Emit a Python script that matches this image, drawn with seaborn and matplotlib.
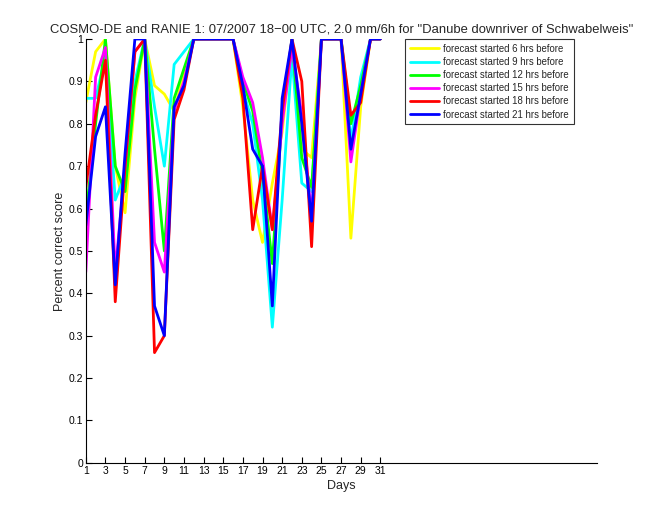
import matplotlib
matplotlib.use("Agg")
import matplotlib.pyplot as plt
import seaborn as sns
import pandas as pd
import numpy as np

days = list(range(1, 32))

yellow_6 = [0.85, 0.97, 1.0, 0.70, 0.59, 0.86, 1.0, 0.89, 0.87, 0.83, 0.92, 1.0,
            1.0, 1.0, 1.0, 1.0, 0.84, 0.62, 0.52, 0.66, 0.78, 1.0, 0.74, 0.72,
            1.0, 1.0, 1.0, 0.53, 0.84, 1.0, 1.0]
cyan_9 = [0.86, 0.86, 0.96, 0.62, 0.68, 0.90, 1.0, 0.84, 0.70, 0.94, 0.97, 1.0,
          1.0, 1.0, 1.0, 1.0, 0.88, 0.80, 0.62, 0.32, 0.62, 0.96, 0.66, 0.64,
          1.0, 1.0, 1.0, 0.76, 0.91, 1.0, 1.0]
green_12 = [0.58, 0.80, 1.0, 0.70, 0.64, 0.88, 1.0, 0.74, 0.50, 0.86, 0.93, 1.0,
            1.0, 1.0, 1.0, 1.0, 0.90, 0.83, 0.68, 0.47, 0.82, 1.0, 0.72, 0.65,
            1.0, 1.0, 1.0, 0.80, 0.89, 1.0, 1.0]
magenta_15 = [0.45, 0.91, 0.98, 0.45, 0.70, 0.97, 1.0, 0.52, 0.45, 0.83, 0.90, 1.0,
              1.0, 1.0, 1.0, 1.0, 0.91, 0.85, 0.72, 0.55, 0.80, 0.98, 0.82, 0.58,
              1.0, 1.0, 1.0, 0.71, 0.87, 1.0, 1.0]
red_18 = [0.65, 0.82, 0.95, 0.38, 0.70, 0.97, 1.0, 0.26, 0.30, 0.81, 0.88, 1.0,
          1.0, 1.0, 1.0, 1.0, 0.86, 0.55, 0.70, 0.55, 0.83, 1.0, 0.90, 0.51,
          1.0, 1.0, 1.0, 0.82, 0.85, 1.0, 1.0]
blue_21 = [0.56, 0.77, 0.84, 0.42, 0.73, 1.0, 1.0, 0.37, 0.30, 0.84, 0.89, 1.0,
           1.0, 1.0, 1.0, 1.0, 0.89, 0.74, 0.70, 0.37, 0.86, 1.0, 0.80, 0.57,
           1.0, 1.0, 1.0, 0.74, 0.87, 1.0, 1.0]

labels = ["forecast started 6 hrs before", "forecast started 9 hrs before",
          "forecast started 12 hrs before", "forecast started 15 hrs before",
          "forecast started 18 hrs before", "forecast started 21 hrs before"]
series = [yellow_6, cyan_9, green_12, magenta_15, red_18, blue_21]
colors = ["#ffff00", "#00ffff", "#00ff00", "#ff00ff", "#ff0000", "#0000ff"]

xticks = list(range(1, 32, 2))
yticks = [0, 0.1, 0.2, 0.3, 0.4, 0.5, 0.6, 0.7, 0.8, 0.9, 1]
ytick_labels = ["0", "0.1", "0.2", "0.3", "0.4", "0.5", "0.6", "0.7", "0.8", "0.9", "1"]

title = 'COSMO-DE and RANIE 1: 07/2007 18\u221200 UTC, 2.0 mm/6h for "Danube downriver of Schwabelweis"'

df = pd.concat([pd.DataFrame({"Days": days, "score": s, "series": lab})
                for s, lab in zip(series, labels)], ignore_index=True)

sns.set_style("white")
plt.rcParams["font.family"] = ["Liberation Sans", "DejaVu Sans"]

fig = plt.figure(figsize=(6.6, 5.2), dpi=100)
ax = fig.add_axes([0.13, 0.11, 0.775, 0.815])

sns.lineplot(data=df, x="Days", y="score", hue="series", hue_order=labels,
             palette=colors, linewidth=2.0, sort=False, ax=ax, legend=True)

ax.set_xlim(1, 53.1)
ax.set_ylim(0, 1)
ax.set_xticks(xticks)
ax.set_xticklabels([str(t) for t in xticks])
ax.set_yticks(yticks)
ax.set_yticklabels(ytick_labels)
ax.tick_params(direction="in", length=4, width=0.8, labelsize=7.5, colors="black",
               bottom=True, left=True, pad=2)
for side in ["top", "right"]:
    ax.spines[side].set_visible(False)
for side in ["left", "bottom"]:
    ax.spines[side].set_color("black")
    ax.spines[side].set_linewidth(0.8)

ax.set_xlabel("Days", fontsize=9, labelpad=3)
ax.set_ylabel("Percent correct score", fontsize=9, labelpad=2)
ax.set_title(title, fontsize=9.4, pad=5)

leg = ax.legend(loc="upper left", bbox_to_anchor=(405 / 660, 1 - 39 / 520),
                bbox_transform=fig.transFigure, borderaxespad=0, fontsize=6.9,
                frameon=True, fancybox=False, edgecolor="black", handlelength=3.0,
                handletextpad=0.5, labelspacing=0.33, borderpad=0.5)
leg.get_frame().set_linewidth(0.8)

fig.savefig("out.png", dpi=100, facecolor="white")
